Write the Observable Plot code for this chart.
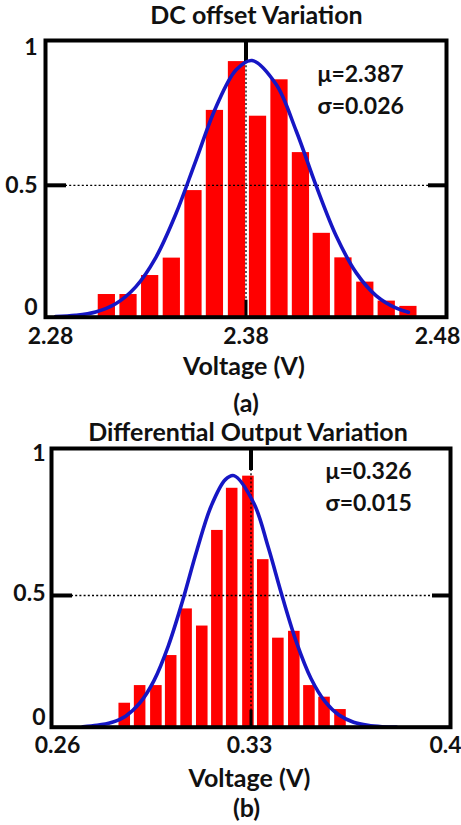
<!DOCTYPE html>
<html><head><meta charset="utf-8">
<script src="https://cdn.jsdelivr.net/npm/d3@7"></script>
<script src="https://cdn.jsdelivr.net/npm/@observablehq/plot@0.6"></script>
<style>
body{margin:0;background:#fff;width:461px;height:825px;overflow:hidden}
#chart svg{display:block}
</style></head><body><div id="chart"></div>
<script>
// ---- shared ----
const yTicks = [0, 0.5, 1];
const xLabel = "Voltage (V)";

// ---- panel (a) ----
const titleA = "DC offset Variation";
const captionA = "(a)";
const statsA = ["μ=2.387", "σ=0.026"];
const xTicksA = [2.28, 2.38, 2.48];
const binsA = [2.3106, 2.3214, 2.3322, 2.3430, 2.3538, 2.3645, 2.3755, 2.3860, 2.3967, 2.4074, 2.4178, 2.4286, 2.4395, 2.4502, 2.4610];
const countsA = [0.086, 0.086, 0.158, 0.224, 0.480, 0.784, 0.969, 0.762, 0.900, 0.624, 0.318, 0.225, 0.133, 0.061, 0.041];
const fitXA = [2.285, 2.295, 2.305, 2.315, 2.325, 2.335, 2.345, 2.355, 2.365, 2.375, 2.383, 2.395, 2.405, 2.415, 2.425, 2.435, 2.445, 2.455, 2.461];
const fitYA = [0.002, 0.007, 0.020, 0.051, 0.115, 0.226, 0.391, 0.594, 0.796, 0.937, 0.973, 0.883, 0.707, 0.498, 0.308, 0.168, 0.081, 0.034, 0.019];

// ---- panel (b) ----
const titleB = "Differential Output Variation";
const captionB = "(b)";
const statsB = ["μ=0.326", "σ=0.015"];
const xTicksB = [0.26, 0.33, 0.4];
const binsB = [0.2857, 0.2911, 0.2968, 0.3020, 0.3074, 0.3129, 0.3182, 0.3234, 0.3291, 0.3343, 0.3396, 0.3452, 0.3505, 0.3558, 0.3614];
const countsB = [0.091, 0.158, 0.158, 0.272, 0.449, 0.384, 0.747, 0.907, 0.953, 0.636, 0.338, 0.364, 0.158, 0.114, 0.067];
const fitXB = [0.271, 0.276, 0.281, 0.286, 0.291, 0.296, 0.301, 0.306, 0.311, 0.316, 0.321, 0.324, 0.331, 0.336, 0.341, 0.346, 0.351, 0.356, 0.361, 0.366, 0.371, 0.376, 0.381];
const fitYB = [0.002, 0.007, 0.018, 0.042, 0.092, 0.178, 0.309, 0.480, 0.671, 0.839, 0.940, 0.955, 0.850, 0.685, 0.495, 0.321, 0.186, 0.097, 0.045, 0.019, 0.007, 0.002, 0.001];

const FONT = "Lato, 'Open Sans', sans-serif";
const fmt = d => String(d);

function panel(o) {
  const W = 461;
  const pw = W - o.ml - o.mr, ph = o.h - o.mt - o.mb;
  const bars = o.bins.map((x, i) => ({x, y: o.counts[i]}));
  const fit = o.fx.map((x, i) => ({x, y: o.fy[i]}));
  const tick = {tickSize: 0, tickFormat: fmt, fontSize: 23, fontWeight: "bold", label: null};
  return Plot.plot({
    width: W, height: o.h,
    marginTop: o.mt, marginBottom: o.mb, marginLeft: o.ml, marginRight: o.mr,
    style: {fontFamily: FONT, fontWeight: "bold", fontSize: "23px", color: "#111", background: "#fff", overflow: "visible"},
    x: {domain: [o.xt[0], o.xt[2]], axis: null},
    y: {domain: [0, o.ymax], axis: null},
    marks: [
      Plot.rect(bars, {x1: d => d.x - o.hw, x2: d => d.x + o.hw, y1: () => 0, y2: "y", fill: "#ff0000"}),
      Plot.ruleY([yTicks[1]], {stroke: "#000", strokeWidth: 1.3, strokeDasharray: "2,2.2", insetLeft: 20, insetRight: 18}),
      Plot.ruleX([o.xt[1]], {stroke: "#000", strokeWidth: 1.3, strokeDasharray: "2,2.2"}),
      Plot.ruleY([yTicks[1]], {stroke: "#000", strokeWidth: 4, insetRight: pw - 21}),
      Plot.ruleY([yTicks[1]], {stroke: "#000", strokeWidth: 4, insetLeft: pw - 18}),
      Plot.ruleX([o.xt[1]], {stroke: "#000", strokeWidth: 4, insetBottom: ph - 22}),
      Plot.ruleX([o.xt[1]], {stroke: "#000", strokeWidth: 3, insetTop: ph - 17}),
      Plot.line(fit, {x: "x", y: "y", stroke: "#1616c4", strokeWidth: 3.6, curve: "catmull-rom"}),
      Plot.frame({stroke: "#000", strokeWidth: 4}),
      Plot.axisY([yTicks[2]], {...tick, tickPadding: o.yp, dy: o.ydy[2]}),
      Plot.axisY([yTicks[1]], {...tick, tickPadding: o.yp, dy: o.ydy[1]}),
      Plot.axisY([yTicks[0]], {...tick, tickPadding: o.yp, dy: o.ydy[0]}),
      Plot.axisX([o.xt[0]], {...tick, tickPadding: o.xp, dx: o.xdx[0]}),
      Plot.axisX([o.xt[1]], {...tick, tickPadding: o.xp, dx: o.xdx[1]}),
      Plot.axisX([o.xt[2]], {...tick, tickPadding: o.xp, dx: o.xdx[2]}),
      Plot.text([o.title], {frameAnchor: "top", dx: o.tdx, dy: o.tdy, fontSize: 25, lineAnchor: "middle"}),
      Plot.text([xLabel], {frameAnchor: "bottom", dx: o.ldx, dy: o.ldy, fontSize: 25, lineAnchor: "middle"}),
      Plot.text([o.caption], {frameAnchor: "bottom", dx: o.cdx, dy: o.cdy, fontSize: 25, lineAnchor: "middle"}),
      Plot.text([o.stats.join("\n")], {frameAnchor: "top-left", dx: o.sdx, dy: o.sdy, textAnchor: "start", lineAnchor: "middle", lineHeight: 1.4, fontSize: 23})
    ]
  });
}

const el = document.getElementById("chart");
el.append(panel({
  h: 412, mt: 40, mb: 95.3, ml: 45, mr: 15, ymax: 1.049,
  xt: xTicksA, bins: binsA, counts: countsA, hw: 0.0043, fx: fitXA, fy: fitYA,
  yp: 8, ydy: [-10, 0, -5.5], xp: 10, xdx: [5, 0, -9],
  title: titleA, tdx: 10.5, tdy: -25,
  ldx: -2, ldy: 49.8, caption: captionA, cdx: 0, cdy: 86.3,
  stats: statsA, sdx: 272, sdy: 47.5
}));
el.append(panel({
  h: 413, mt: 36, mb: 98.3, ml: 51, mr: 11, ymax: 1.058,
  xt: xTicksB, bins: binsB, counts: countsB, hw: 0.00203, fx: fitXB, fy: fitYB,
  yp: 6, ydy: [-10, -2, -10], xp: 9, xdx: [6, -1.5, -5],
  title: titleB, tdx: -3, tdy: -16,
  ldx: -1.5, ldy: 51.3, caption: captionB, cdx: -4.5, cdy: 81.3,
  stats: statsB, sdx: 274, sdy: 36
}));
</script></body></html>
